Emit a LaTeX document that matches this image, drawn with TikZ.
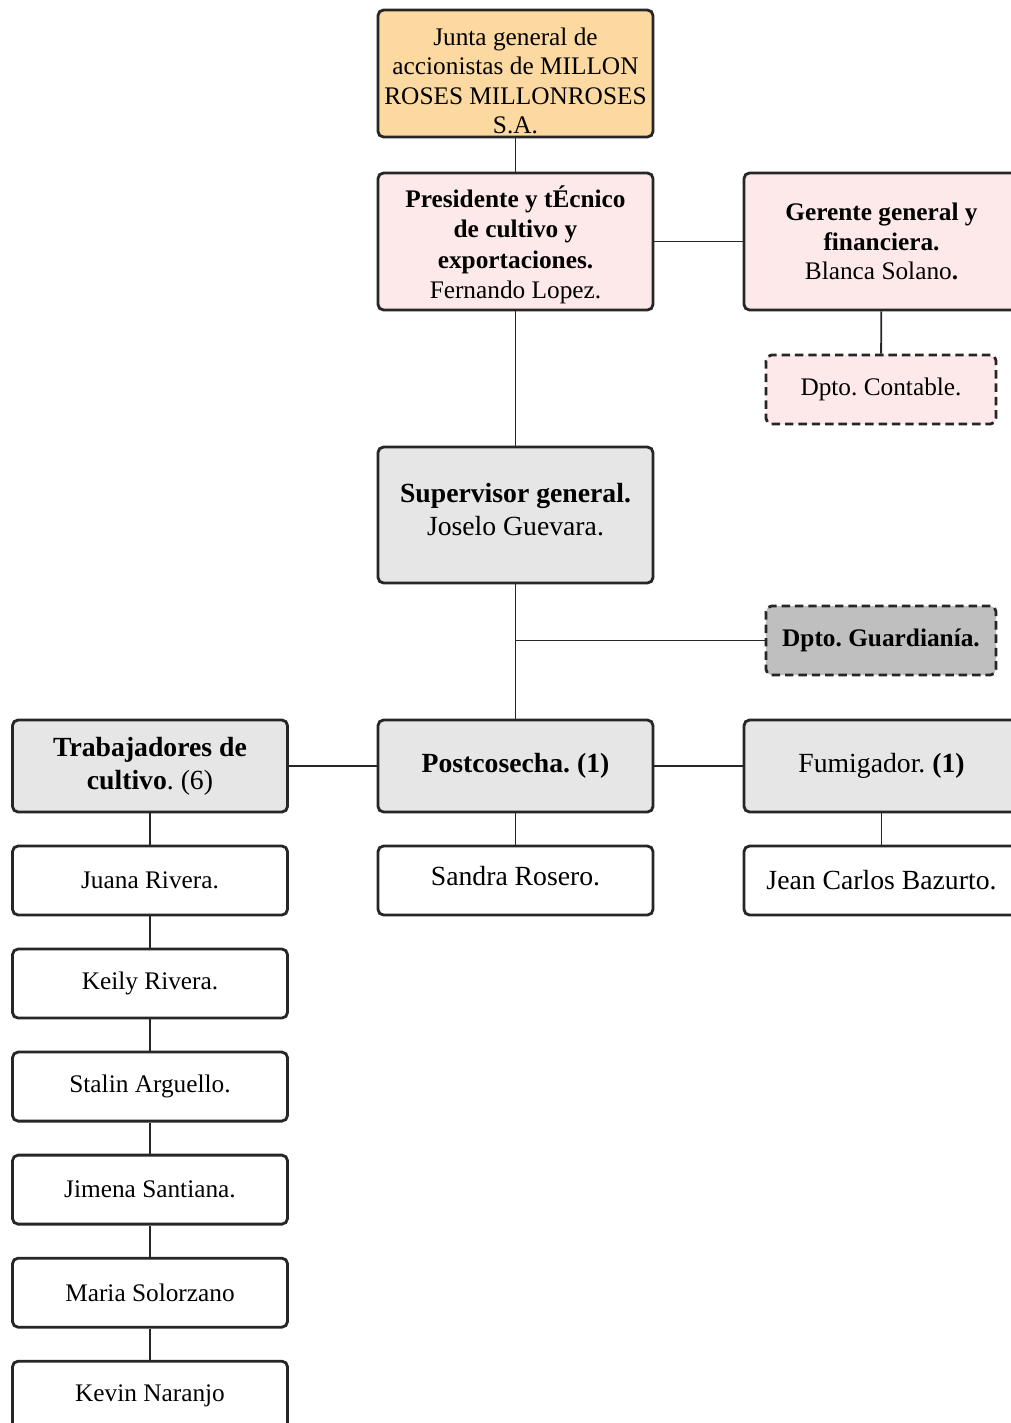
\documentclass[tikz,border=0pt]{standalone}
\usepackage{fontspec}
\setmainfont{Liberation Serif}
\frenchspacing
\usetikzlibrary{positioning}
\definecolor{juntaorange}{RGB}{252,217,160}
\definecolor{rosepink}{RGB}{253,233,233}
\definecolor{lightgray}{RGB}{230,230,230}
\definecolor{darkgray}{RGB}{191,191,191}
\tikzstyle{unit} = [rectangle, rounded corners=4pt, line width=2pt, draw=black!85, align=center, inner sep=2pt, minimum width=6.875cm, font=\fontsize{18}{21}\selectfont]
\tikzstyle{bigunit} = [unit, font=\fontsize{19.7}{23.5}\selectfont]
\tikzstyle{dept} = [unit, dash pattern=on 6pt off 3.5pt, minimum width=5.75cm, minimum height=1.725cm]
\tikzstyle{person} = [unit, fill=white, minimum height=1.725cm]
\tikzstyle{link} = [line width=1.3pt, draw=black!85]

\begin{document}
\begin{tikzpicture}[x=0.025cm, y=-0.025cm]
\useasboundingbox (0,0) rectangle (1011,1423);

% Nodes
\node (junta) [unit, fill=juntaorange, minimum height=3.175cm] at (515.5,73.5)
{\rule{0pt}{23pt}Junta general de\\accionistas de MILLON\\ROSES MILLONROSES\\S.A.};

\node (pres) [unit, fill=rosepink, minimum height=3.425cm, font=\fontsize{18}{21.7}\selectfont] at (515.5,241.5)
{\rule{0pt}{20pt}\textbf{Presidente y tÉcnico}\\\textbf{de cultivo y}\\\textbf{exportaciones.}\\Fernando Lopez.};

\node (gerente) [unit, fill=rosepink, minimum height=3.425cm] at (881.5,241.5)
{\textbf{Gerente general y}\\\textbf{financiera.}\\Blanca Solano\textbf{.}};

\node (contable) [dept, fill=rosepink] at (881,389.5) {Dpto. Contable.};

\node (super) [bigunit, fill=lightgray, minimum height=3.4cm] at (515.5,515)
{\textbf{Supervisor general.}\\Joselo Guevara.\rule[-8pt]{0pt}{8pt}};

\node (guard) [dept, fill=darkgray] at (881,640.5) {\textbf{Dpto. Guardianía.}};

\node (trab) [bigunit, fill=lightgray, minimum height=2.3cm] at (150,766)
{\textbf{Trabajadores de}\\\textbf{cultivo}. (6)};

\node (post) [bigunit, fill=lightgray, minimum height=2.3cm] at (515.5,766)
{\textbf{Postcosecha. (1)}};

\node (fumi) [bigunit, fill=lightgray, minimum height=2.3cm] at (881.5,766)
{Fumigador. \textbf{(1)}};

\node (sandra) [person, font=\fontsize{19.7}{23.5}\selectfont] at (515.5,880.5) {Sandra Rosero.\rule[-6pt]{0pt}{6pt}};
\node (jean) [person, font=\fontsize{19.7}{23.5}\selectfont] at (881.5,880.5) {Jean Carlos Bazurto.};

\node (juana) [person] at (150,880.5) {Juana Rivera.};
\node (keily) [person, below=0.78cm of juana] {Keily Rivera.};
\node (stalin) [person, below=0.78cm of keily] {Stalin Arguello.};
\node (jimena) [person, below=0.78cm of stalin] {Jimena Santiana.};
\node (maria) [person, below=0.78cm of jimena] {Maria Solorzano};
\node (kevin) [person, below=0.78cm of maria] {Kevin Naranjo};

\coordinate (branch) at (515.5,640.5);

% Lines
\draw [link] (junta) -- (pres);
\draw [link] (pres) -- (gerente);
\draw [link] (gerente) -- (contable);
\draw [link] (pres) -- (super);
\draw [link] (super) -- (post);
\draw [link] (branch) -- (guard);
\draw [link] (post) -- (trab);
\draw [link] (post) -- (fumi);
\draw [link] (post) -- (sandra);
\draw [link] (fumi) -- (jean);
\draw [link] (trab) -- (juana);
\draw [link] (juana) -- (keily);
\draw [link] (keily) -- (stalin);
\draw [link] (stalin) -- (jimena);
\draw [link] (jimena) -- (maria);
\draw [link] (maria) -- (kevin);

\end{tikzpicture}
\end{document}
